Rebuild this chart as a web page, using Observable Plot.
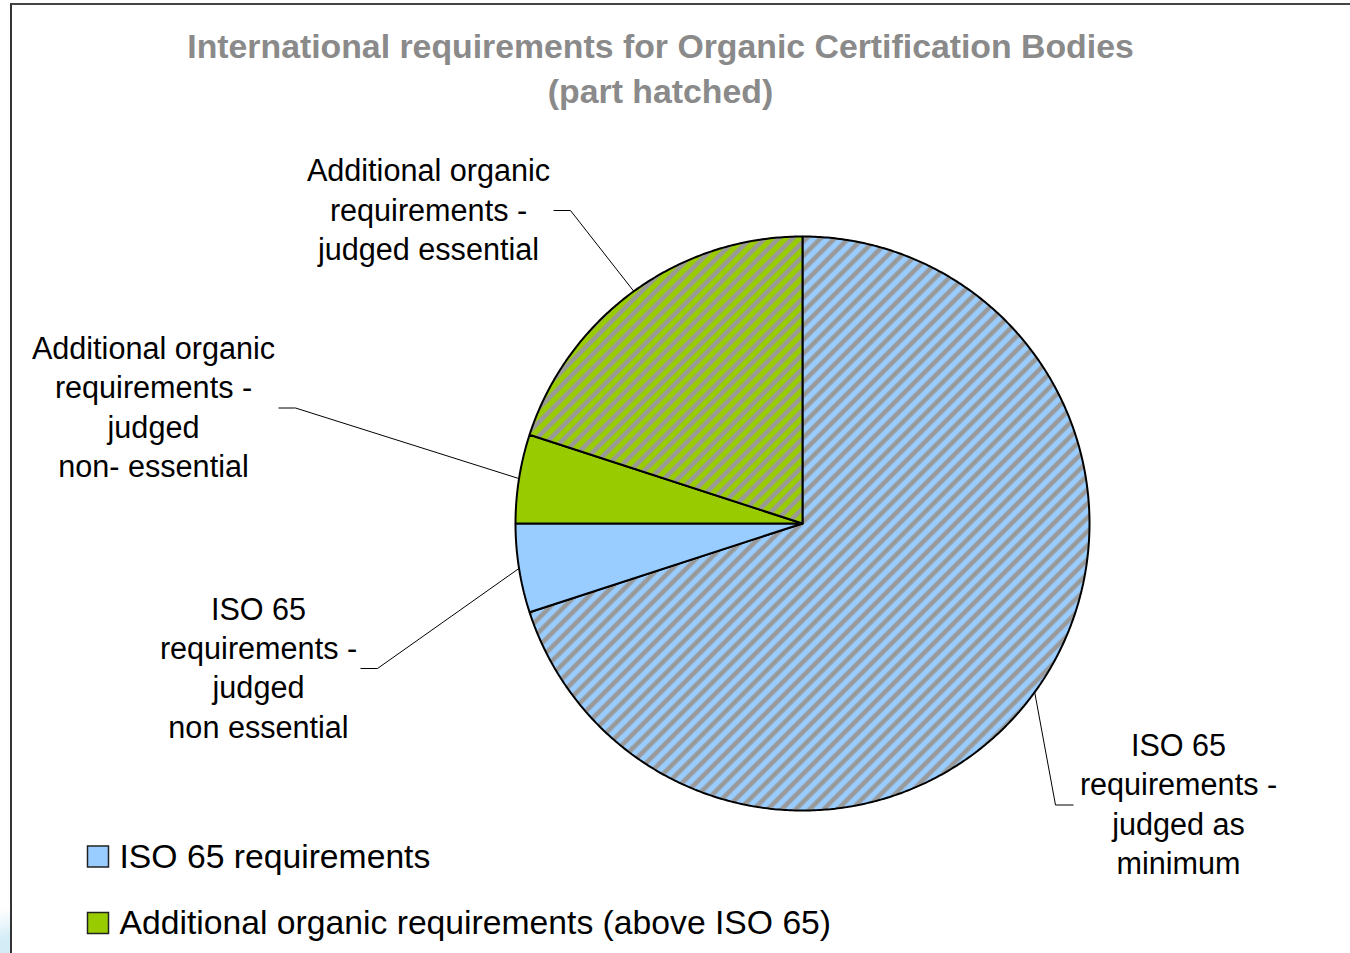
<!DOCTYPE html>
<html>
<head>
<meta charset="utf-8">
<script src="https://cdn.jsdelivr.net/npm/d3@7"></script>
<script src="https://cdn.jsdelivr.net/npm/@observablehq/plot@0.6"></script>
<style>
  html, body { margin: 0; padding: 0; background: #fff; }
  #wrap { position: relative; width: 1350px; height: 953px; overflow: hidden; font-family: "Liberation Sans", Arial, sans-serif; }
  #title { height: 120px; box-sizing: border-box; padding-top: 24px; width: 1321px; text-align: center;
           font-size: 33.8px; line-height: 45px; font-weight: bold; color: #8a8a8a; }
  #frame { position: absolute; left: 10px; top: 3px; width: 1400px; height: 1000px;
           border-left: 2px solid #333; border-top: 2px solid #444; pointer-events: none; z-index: 5; }
  #corner { position: absolute; left: 0; top: 905px; width: 10px; height: 48px;
            background: linear-gradient(160deg, rgba(255,255,255,0) 10%, #d4ecf6 70%); z-index: 4; }
</style>
</head>
<body>
<div id="wrap">
  <div id="frame"></div>
  <div id="corner"></div>
  <div id="title">International requirements for Organic Certification Bodies<br>(part hatched)</div>
  <div id="chart"></div>
</div>
<script>
// ---- data ----
const categories = [
  "ISO 65 requirements - judged as minimum",
  "ISO 65 requirements - judged non essential",
  "Additional organic requirements - judged non- essential",
  "Additional organic requirements - judged essential"
];
const values = [70, 5, 5, 20];
const groups = [
  "ISO 65 requirements",
  "ISO 65 requirements",
  "Additional organic requirements (above ISO 65)",
  "Additional organic requirements (above ISO 65)"
];
const hatched = [true, false, false, true];
const labelLines = [
  ["ISO 65", "requirements -", "judged as", "minimum"],
  ["ISO 65", "requirements -", "judged", "non essential"],
  ["Additional organic", "requirements -", "judged", "non- essential"],
  ["Additional organic", "requirements -", "judged essential"]
];
const legendItems = ["ISO 65 requirements", "Additional organic requirements (above ISO 65)"];

// ---- styles / layout ----
const groupColor = {
  "ISO 65 requirements": "#99CCFF",
  "Additional organic requirements (above ISO 65)": "#99CC00"
};
const hatchId = {
  "ISO 65 requirements": "hatch-blue",
  "Additional organic requirements (above ISO 65)": "hatch-green"
};
const TOP = 120;
const W = 1350, H = 953 - TOP;
const PIE = {cx: 802, cy: 523 - TOP, r: 287};
const FONT = "'Liberation Sans', Arial, sans-serif";
// label layout: text centre, leader tail x, leader elbow x
const labelLayout = [
  {x: 1178, y: 684.5, tail: 1073, elbow: 1055},
  {x: 258,  y: 548,   tail: 360,  elbow: 377},
  {x: 153,  y: 287.5, tail: 278,  elbow: 295},
  {x: 428,  y: 90,    tail: 553,  elbow: 570}
];
const labelTextDy = -2.5;
const legendLayout = {x: 98, textX: 119, y0: 736.5, dy: 66.5, size: 21};
const HATCH = 14;

// ---- build ----
const arcs = d3.pie().sort(null).value(d => d)(values);
const polar = (a, r) => ({x: PIE.cx + r * Math.sin(a), y: PIE.cy - r * Math.cos(a)});

const slices = arcs.map((a, i) => {
  const n = Math.max(2, Math.ceil((a.endAngle - a.startAngle) / (Math.PI / 360)));
  const pts = [{x: PIE.cx, y: PIE.cy}];
  for (let k = 0; k <= n; k++) pts.push(polar(a.startAngle + (a.endAngle - a.startAngle) * k / n, PIE.r));
  pts.push({x: PIE.cx, y: PIE.cy});
  const g = groups[i];
  return {pts, fill: hatched[i] ? `url(#${hatchId[g]})` : groupColor[g]};
});

const leaders = arcs.map((a, i) => {
  const L = labelLayout[i];
  const p = polar((a.startAngle + a.endAngle) / 2, PIE.r);
  return [{x: L.tail, y: L.y}, {x: L.elbow, y: L.y}, p];
});

const labels = labelLines.map((lines, i) => ({text: lines.join("\n"), x: labelLayout[i].x, y: labelLayout[i].y + labelTextDy}));
const legend = legendItems.map((name, i) => ({name, color: groupColor[name], y: legendLayout.y0 + i * legendLayout.dy}));

const svg = Plot.plot({
  width: W, height: H,
  margin: 0,
  x: {type: "linear", domain: [0, W], range: [0, W], axis: null},
  y: {type: "linear", domain: [0, H], range: [0, H], axis: null},
  style: {fontFamily: FONT, background: "transparent", overflow: "visible"},
  marks: [
    ...slices.map(s => Plot.line(s.pts, {x: "x", y: "y", fill: s.fill, stroke: "#000", strokeWidth: 2, curve: "linear", strokeLinejoin: "miter"})),
    ...leaders.map(l => Plot.line(l, {x: "x", y: "y", stroke: "#000", strokeWidth: 1, strokeLinecap: "butt", strokeLinejoin: "miter"})),
    Plot.text(labels, {x: "x", y: "y", text: "text", fontSize: 30.6, lineHeight: 1.285, fill: "#000", textAnchor: "middle", fontFamily: FONT}),
    Plot.rect(legend, {
      x1: () => legendLayout.x - legendLayout.size / 2, x2: () => legendLayout.x + legendLayout.size / 2,
      y1: d => d.y - legendLayout.size / 2, y2: d => d.y + legendLayout.size / 2,
      fill: "color", stroke: "#222", strokeWidth: 1.5
    }),
    Plot.text(legend, {x: () => legendLayout.textX, y: "y", text: "name", textAnchor: "start", fontSize: 33.7, fill: "#000", fontFamily: FONT})
  ]
});

// hatch patterns
const defs = d3.select(svg).insert("defs", ":first-child");
for (const g of Object.keys(groupColor)) {
  const s = HATCH;
  const p = defs.append("pattern").attr("id", hatchId[g]).attr("patternUnits", "userSpaceOnUse")
    .attr("width", s).attr("height", s);
  p.append("rect").attr("width", s).attr("height", s).attr("fill", groupColor[g]);
  p.append("path").attr("d", `M-4,4L4,-4M0,${s}L${s},0M${s - 4},${s + 4}L${s + 4},${s - 4}`)
    .attr("stroke", "#999999").attr("stroke-width", 4.5).attr("fill", "none");
}

document.getElementById("chart").appendChild(svg);
</script>
</body>
</html>
